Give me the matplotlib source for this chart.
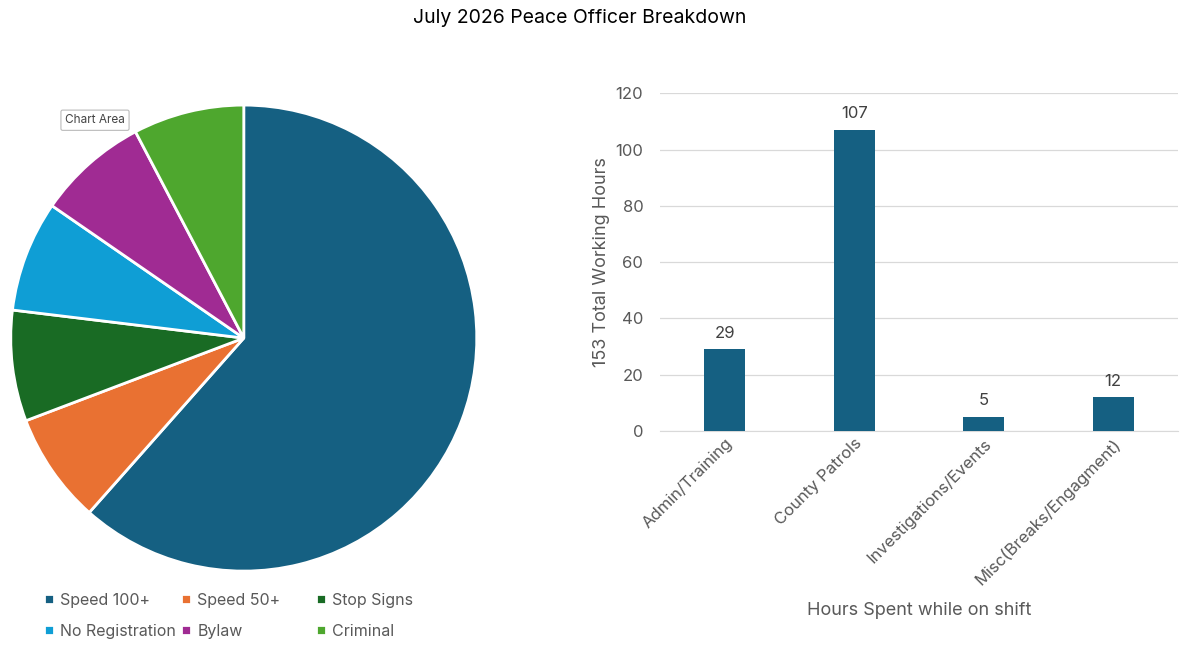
import matplotlib.pyplot as plt

plt.rcParams['font.family'] = ['Inter', 'DejaVu Sans']

# === DATA ===
pie_labels = ["Speed 100+", "Speed 50+", "Stop Signs", "No Registration", "Bylaw", "Criminal"]
pie_values = [8, 1, 1, 1, 1, 1]
pie_colors = ["#156082", "#E97132", "#196B24", "#0F9ED5", "#A02B93", "#4EA72E"]

bar_cats = ["Admin/Training", "County Patrols", "Investigations/Events", "Misc(Breaks/Engagment)"]
bar_vals = [29, 107, 5, 12]
bar_color = "#156082"

TXT = "#595959"

fig = plt.figure(figsize=(11.92, 6.57), dpi=100)
fig.text(0.486, 0.972, "July 2026 Peace Officer Breakdown", ha="center", va="center",
         fontsize=14, color="black")

# === PIE ===
ax1 = fig.add_axes([0.010, 0.1324, 0.389, 0.706])
wedges, _ = ax1.pie(pie_values, colors=pie_colors, startangle=90, counterclock=False,
                    wedgeprops=dict(edgecolor="white", linewidth=2))
ax1.set_xlim(-0.995, 0.995)
ax1.set_ylim(-0.995, 0.995)
ax1.set_aspect("equal")

# legend laid out row-wise in fixed columns, like Excel
col_x = [0.025, 0.140, 0.253]
for i, cx in enumerate(col_x):
    idx = [i, i + 3]
    leg = fig.legend([wedges[j] for j in idx], [pie_labels[j] for j in idx],
                     loc="upper left", bbox_to_anchor=(cx, 0.120), ncol=1, frameon=False,
                     fontsize=11.5, handlelength=0.6, handleheight=0.6,
                     handletextpad=0.4, labelspacing=1.0)
    for t in leg.get_texts():
        t.set_color(TXT)

# tooltip box
fig.text(0.0797, 0.817, "Chart Area", fontsize=8.5, color="#444444", ha="center", va="center",
         bbox=dict(boxstyle="round,pad=0.35,rounding_size=0.15", fc="white", ec="#BBBBBB", lw=0.8))

# === BAR ===
ax2 = fig.add_axes([0.5537, 0.344, 0.4346, 0.514])
x = range(len(bar_cats))
bars = ax2.bar(x, bar_vals, width=0.317, color=bar_color, zorder=3)
for b, v in zip(bars, bar_vals):
    ax2.text(b.get_x() + b.get_width() / 2, v + 3, str(v), ha="center", va="bottom",
             fontsize=12, color="#404040")
ax2.set_xlim(-0.5, 3.5)
ax2.set_ylim(0, 120)
ax2.set_yticks(range(0, 121, 20))
ax2.grid(axis="y", color="#D9D9D9", linewidth=0.9, zorder=0)
for s in ["top", "right", "left"]:
    ax2.spines[s].set_visible(False)
ax2.spines["bottom"].set_color("#D9D9D9")
ax2.tick_params(axis="both", length=0, colors=TXT, labelsize=12)
ax2.tick_params(axis="y", pad=12)
ax2.set_xticks(list(x))
ax2.set_xticklabels(bar_cats, rotation=45, ha="right", rotation_mode="anchor")
ax2.set_ylabel("153 Total Working Hours", fontsize=13, color=TXT, labelpad=4)
ax2.set_xlabel("Hours Spent while on shift", fontsize=13, color=TXT, labelpad=10)

fig.savefig("out.png", dpi=100)
